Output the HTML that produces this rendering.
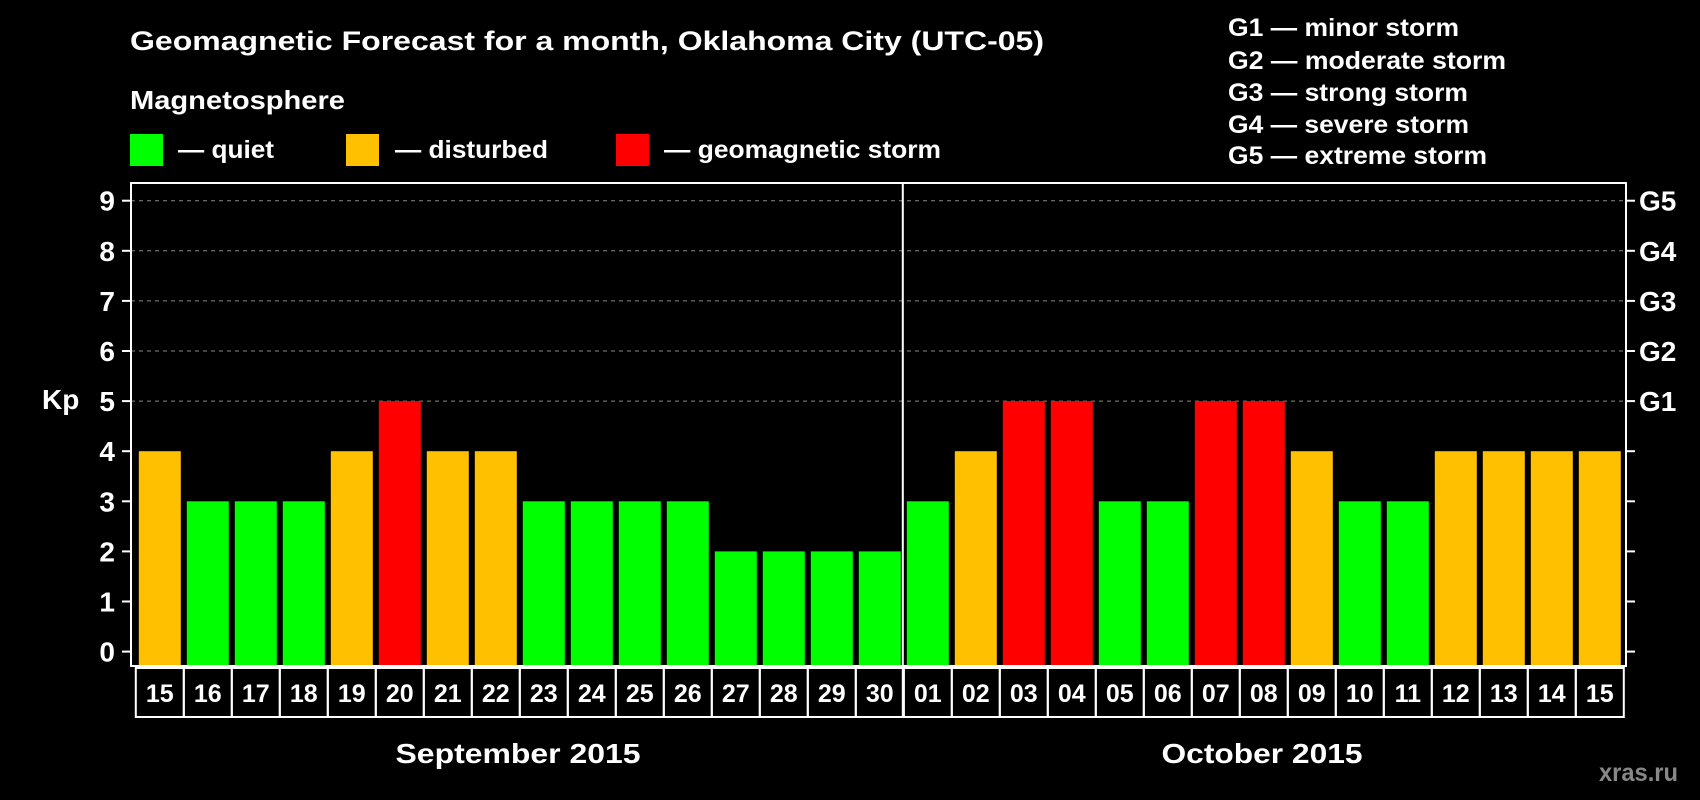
<!DOCTYPE html>
<html><head><meta charset="utf-8"><style>
html,body{margin:0;padding:0;background:#000;}
svg{display:block;font-family:"Liberation Sans",Arial,sans-serif;font-weight:bold;}
</style></head><body>
<svg id="chart" width="1700" height="800" viewBox="0 0 1700 800">
<text x="130" y="50" fill="#fff" font-size="27" textLength="914" lengthAdjust="spacingAndGlyphs">Geomagnetic Forecast for a month, Oklahoma City (UTC-05)</text>
<text x="130" y="109" fill="#fff" font-size="26" textLength="215" lengthAdjust="spacingAndGlyphs">Magnetosphere</text>
<g><rect x="130" y="134" width="33" height="32" fill="#00ff00"/><text x="178" y="158" fill="#fff" font-size="25" textLength="96" lengthAdjust="spacingAndGlyphs">— quiet</text></g>
<g><rect x="346" y="134" width="33" height="32" fill="#ffc000"/><text x="395" y="158" fill="#fff" font-size="25" textLength="153" lengthAdjust="spacingAndGlyphs">— disturbed</text></g>
<g><rect x="616" y="134" width="33" height="32" fill="#ff0000"/><text x="664" y="158" fill="#fff" font-size="25" textLength="277" lengthAdjust="spacingAndGlyphs">— geomagnetic storm</text></g>
<g fill="#fff" font-size="25" lengthAdjust="spacingAndGlyphs">
<text x="1228" y="36" textLength="231" lengthAdjust="spacingAndGlyphs">G1 — minor storm</text>
<text x="1228" y="69" textLength="278" lengthAdjust="spacingAndGlyphs">G2 — moderate storm</text>
<text x="1228" y="101" textLength="240" lengthAdjust="spacingAndGlyphs">G3 — strong storm</text>
<text x="1228" y="133" textLength="241" lengthAdjust="spacingAndGlyphs">G4 — severe storm</text>
<text x="1228" y="164" textLength="259" lengthAdjust="spacingAndGlyphs">G5 — extreme storm</text>
</g>
<text x="42" y="409" fill="#fff" font-size="28">Kp</text>
<g id="grid"></g><g id="bars"></g><g id="axes"></g>
<text x="518" y="763" fill="#fff" font-size="28" text-anchor="middle" textLength="245" lengthAdjust="spacingAndGlyphs">September 2015</text>
<text x="1262" y="763" fill="#fff" font-size="28" text-anchor="middle" textLength="201" lengthAdjust="spacingAndGlyphs">October 2015</text>
<text x="1678" y="781" fill="#888" font-size="25" text-anchor="end" textLength="79" lengthAdjust="spacingAndGlyphs">xras.ru</text>
</svg>
<script>
const days = ["15","16","17","18","19","20","21","22","23","24","25","26","27","28","29","30","01","02","03","04","05","06","07","08","09","10","11","12","13","14","15"];
const kpValues = [4,3,3,3,4,5,4,4,3,3,3,3,2,2,2,2,3,4,5,5,3,3,5,5,4,3,3,4,4,4,4];
const yTicks = [0,1,2,3,4,5,6,7,8,9];
const gLabels = ["","","","","","G1","G2","G3","G4","G5"];
const NS="http://www.w3.org/2000/svg";
const L=131,R=1626,T=183,B=666,Y0=651.6,UNIT=50.1,X0=135.8,PITCH=48.0,BW=42;
const y=v=>Y0-v*UNIT;
const x=i=>X0+i*PITCH;
function mk(tag,attrs,parent){const e=document.createElementNS(NS,tag);for(const k in attrs)e.setAttribute(k,attrs[k]);parent.appendChild(e);return e;}
const grid=document.getElementById('grid'),bars=document.getElementById('bars'),axes=document.getElementById('axes');
yTicks.forEach((t,i)=>{
 if(t>=5){const g=mk('line',{x1:L,x2:R,y1:y(t),y2:y(t),stroke:'#888','stroke-width':1,'stroke-dasharray':'4,4'},grid);
 
 }
 const tl=mk('line',{x1:L-9,x2:L,y1:y(t),y2:y(t),stroke:'#fff','stroke-width':2},axes);
 
 
 const tr=mk('line',{x1:R,x2:R+9,y1:y(t),y2:y(t),stroke:'#fff','stroke-width':2},axes);
 
 
 const lb=mk('text',{x:115,y:y(t)+10,fill:'#fff','font-size':28,'text-anchor':'end'},axes);lb.textContent=t;
 
 
 if(gLabels[i]){const gl=mk('text',{x:1639,y:y(t)+10,fill:'#fff','font-size':28},axes);gl.textContent=gLabels[i];
 
 }
});
kpValues.forEach((v,i)=>{
 const c=v>=5?'#ff0000':(v>=4?'#ffc000':'#00ff00');
 const b=mk('rect',{x:x(i)+3,y:y(v),width:BW,height:B-y(v),fill:c},bars);
 
 
 const cell=mk('rect',{x:x(i),y:B+2,width:PITCH,height:49,fill:'none',stroke:'#fff','stroke-width':2},axes);
 
 
 const dl=mk('text',{x:x(i)+PITCH/2,y:B+36,fill:'#fff','font-size':25,'text-anchor':'middle'},axes);dl.textContent=days[i];
 
 
});
const fr=mk('rect',{x:L,y:T,width:R-L,height:B-T,fill:'none',stroke:'#fff','stroke-width':2},axes);


const dv=mk('line',{x1:x(16)-1,x2:x(16)-1,y1:T,y2:B+51,stroke:'#fff','stroke-width':2},axes);


</script>
</body></html>
